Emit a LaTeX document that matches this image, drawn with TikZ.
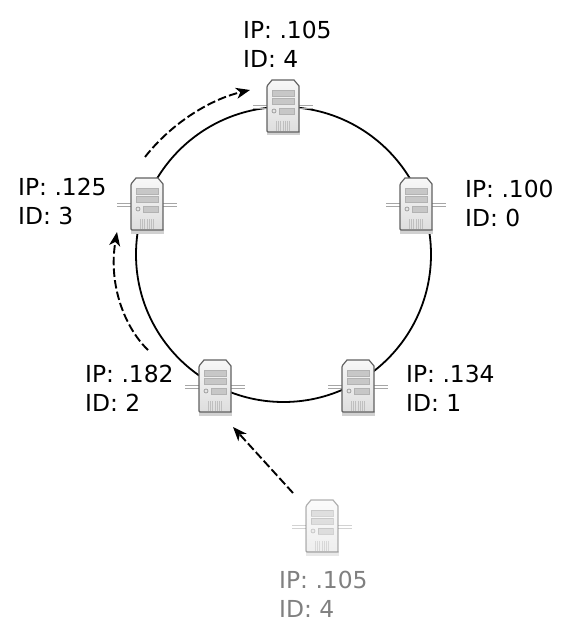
\documentclass[tikz,border=0pt]{standalone}
\usepackage{fontspec}
\setmainfont{DejaVu Sans}
\usetikzlibrary{arrows.meta, positioning}
\tikzset{
	ring/.style={circle, draw, line width=1.8pt, minimum size=295pt, inner sep=0pt},
	hop/.style={line width=1.9pt, dash pattern=on 8.5pt off 3.2pt, -{Stealth[length=14pt, width=11pt, inset=4pt]}},
	lbl/.style={anchor=west, align=left, inner sep=0pt, font=\fontsize{23.4}{29}\selectfont},
	pics/server/.style={code={
		\fill[black!18] (-16,24) rectangle (17,28.5);
		\draw[black!35, line width=.8pt] (-30,-1.5) -- (-16,-1.5) (-30,1.5) -- (-16,1.5) (16,-1.5) -- (30,-1.5) (16,1.5) -- (30,1.5);
		\draw[black!62, line width=1.2pt, top color=black!3, bottom color=black!13]
			(-16,-21) -- (-11,-27) -- (11,-27) -- (16,-21) -- (16,25) [rounded corners=1pt] -- (-16,25) -- cycle;
		\draw[black!30, fill=black!22, line width=.6pt] (-11,-17) rectangle (11,-11);
		\draw[black!30, fill=black!22, line width=.6pt] (-11,-9) rectangle (11,-3);
		\draw[black!30, fill=black!22, line width=.6pt] (-4,1) rectangle (11,7);
		\draw[black!45, fill=black!10, line width=.6pt] (-9,4) circle (2);
		\foreach \v in {-7,-4.7,...,7.5}{
			\draw[black!25, line width=.7pt] (\v,14) -- (\v,24);
		}
	}}
}
\begin{document}
\begin{tikzpicture}[x=1pt, y=-1pt]
	\useasboundingbox (0,0) rectangle (571,636);
	\node[ring] (overlay) at (283.5,254.5) {};
	\foreach [count=\i] \x/\y in {416/205,358/387,215/387,147/205,283/107}{
		\pic (srv\i) at (\x,\y) {server};
	}
	\pic[opacity=.5] (srvnew) at (322,527) {server};
	\foreach [count=\i] \x/\y/\a/\b in {465/203/.100/0,406/388/.134/1,85/388/.182/2,18/201/.125/3,243/44/.105/4}{
		\node[lbl] (lbl\i) at (\x,\y) {IP: \a\\ID: \b};
	}
	\node[lbl, text=black!50] (lblnew) at (279,594) {IP: .105\\ID: 4};
	\coordinate (hopa) at (145,157);
	\coordinate (hopb) at (250,90);
	\coordinate (hopc) at (148,350);
	\coordinate (hopd) at (117,232);
	\coordinate (hope) at (293,493);
	\coordinate (hopf) at (233,427);
	\draw[hop] (hopa) .. controls (170,125) and (208,100) .. (hopb);
	\draw[hop] (hopc) .. controls (125,328) and (108,285) .. (hopd);
	\draw[hop] (hope) -- (hopf);
\end{tikzpicture}
\end{document}
